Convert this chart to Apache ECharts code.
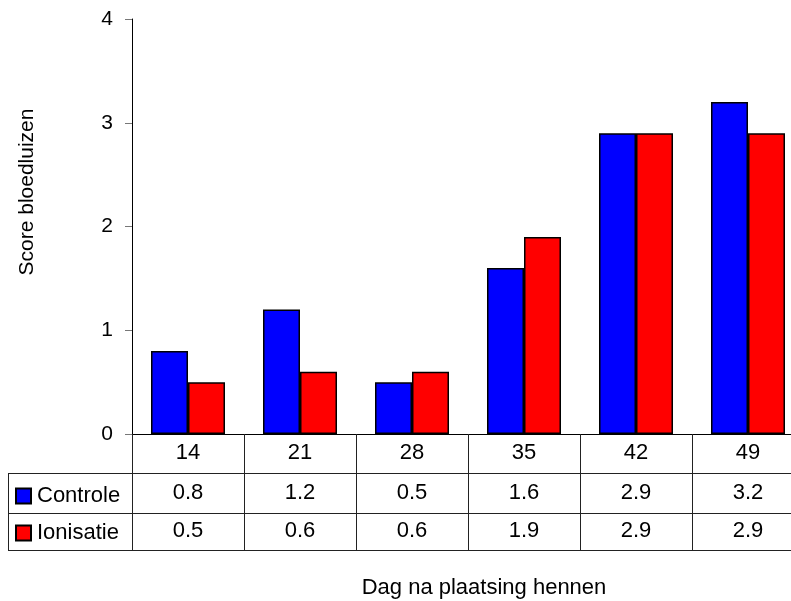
<!DOCTYPE html>
<html>
<head>
<meta charset="utf-8">
<script src="https://cdn.jsdelivr.net/npm/echarts@6/dist/echarts.min.js"></script>
<style>
  html, body { margin: 0; padding: 0; background: #fff; overflow: hidden; }
  /* the last table column runs past the right edge of the window */
  #chart { width: 804px; height: 601px; }
</style>
</head>
<body>
<div id="chart"></div>
<script>
// Days after the hens were placed
const days = ['14', '21', '28', '35', '42', '49'];
// Mean blood-lice score per group
const controle = [0.8, 1.2, 0.5, 1.6, 2.9, 3.2];
const ionisatie = [0.5, 0.6, 0.6, 1.9, 2.9, 2.9];
const seriesNames = ['Controle', 'Ionisatie'];

const FONT = 'Liberation Sans, Arial, sans-serif';
const chart = echarts.init(document.getElementById('chart'), null, { renderer: 'canvas' });

const tableLine = { stroke: '#222', lineWidth: 1 };

// value row of the data table underneath the plot
function rowAxis(values, margin) {
  return {
    type: 'category',
    data: days,
    gridIndex: 0,
    position: 'bottom',
    axisLine: { show: false },
    axisTick: { show: false },
    splitLine: { show: false },
    axisLabel: {
      margin: margin,
      verticalAlign: 'middle',
      color: '#000',
      fontFamily: FONT,
      fontSize: 22,
      formatter: (v, i) => values[i].toFixed(1)
    }
  };
}

function legendFor(name, top) {
  return {
    data: [name],
    left: 15,
    top: top,
    padding: 0,
    itemWidth: 15,
    itemHeight: 15,
    icon: 'rect',
    selectedMode: false,
    textStyle: { color: '#000', fontFamily: FONT, fontSize: 22, padding: [0, 0, 0, 1] }
  };
}

chart.setOption({
  animation: false,
  backgroundColor: '#fff',
  grid: { left: 132, top: 19, right: 0, bottom: 167 },
  legend: [legendFor(seriesNames[0], 485), legendFor(seriesNames[1], 522)],
  xAxis: [
    {
      type: 'category',
      data: days,
      boundaryGap: true,
      axisLine: { lineStyle: { color: '#000', width: 1 } },
      axisTick: { show: true, length: 116, interval: 0, lineStyle: { color: '#222', width: 1 } },
      axisLabel: {
        margin: 19,
        verticalAlign: 'middle',
        color: '#000',
        fontFamily: FONT,
        fontSize: 22
      },
      splitLine: { show: false }
    },
    rowAxis(controle, 59),
    rowAxis(ionisatie, 97)
  ],
  yAxis: {
    type: 'value',
    min: 0,
    max: 4,
    interval: 1,
    axisLine: { show: true, lineStyle: { color: '#000', width: 1 } },
    axisTick: { show: true, length: 7, lineStyle: { color: '#777', width: 1 } },
    axisLabel: { margin: 19, color: '#000', fontFamily: FONT, fontSize: 21 },
    splitLine: { show: false }
  },
  series: [
    {
      name: seriesNames[0],
      type: 'bar',
      data: controle,
      barWidth: 37,
      barGap: '0%',
      itemStyle: { color: '#0000FF', borderColor: '#000', borderWidth: 1.5 }
    },
    {
      name: seriesNames[1],
      type: 'bar',
      data: ionisatie,
      barWidth: 37,
      barGap: '0%',
      itemStyle: { color: '#FF0000', borderColor: '#000', borderWidth: 1.5 }
    }
  ],
  graphic: [
    // table frame
    { type: 'line', shape: { x1: 8, y1: 473.5, x2: 804, y2: 473.5 }, style: tableLine, silent: true },
    { type: 'line', shape: { x1: 8, y1: 513.5, x2: 804, y2: 513.5 }, style: tableLine, silent: true },
    { type: 'line', shape: { x1: 8, y1: 550.5, x2: 804, y2: 550.5 }, style: tableLine, silent: true },
    { type: 'line', shape: { x1: 8.5, y1: 473, x2: 8.5, y2: 551 }, style: tableLine, silent: true },
    // axis titles
    {
      type: 'text', x: 27, y: 192, rotation: Math.PI / 2,
      style: { text: 'Score bloedluizen', fill: '#000', font: '21px ' + FONT, textAlign: 'center', textVerticalAlign: 'middle' }
    },
    {
      type: 'text', x: 484, y: 588,
      style: { text: 'Dag na plaatsing hennen', fill: '#000', font: '22px ' + FONT, textAlign: 'center', textVerticalAlign: 'middle' }
    }
  ]
});
</script>
</body>
</html>
